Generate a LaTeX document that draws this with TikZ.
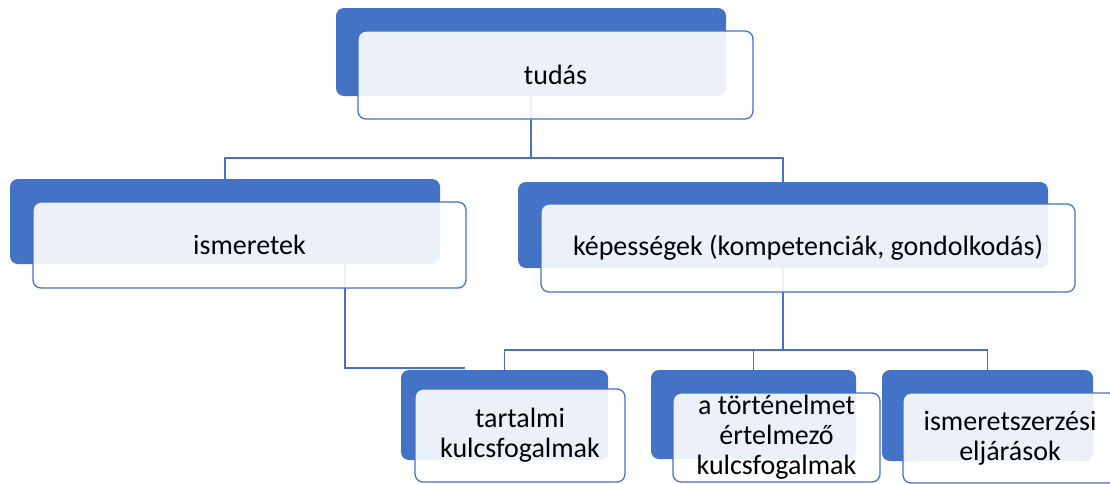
\documentclass[tikz,border=0pt]{standalone}
\usepackage{fontspec}
\setmainfont{Carlito}
\definecolor{accblue}{RGB}{68,114,196}
\tikzset{
  backbox/.style={draw=none, fill=accblue, rounded corners=8pt, inner sep=0pt, outer sep=0pt},
  frontbox/.style={draw=accblue, line width=1.3pt, fill=white, fill opacity=0.9, text opacity=1,
    rounded corners=8pt, inner sep=0pt, outer sep=0pt, align=center,
    font=\fontsize{28}{30}\selectfont, text=black},
  conn/.style={draw=accblue, line width=1.6pt}
}
\begin{document}
\begin{tikzpicture}[x=1pt,y=-1pt]
\useasboundingbox (0,0) rectangle (1110,483);
% back boxes as named nodes (positions only)
\path
  coordinate (tudasC) at (531,52)
  coordinate (ismC) at (225,221.5)
  coordinate (kepC) at (783,225)
  coordinate (tartC) at (504.5,415)
  coordinate (tortC) at (753.5,414.5)
  coordinate (ismszC) at (987.5,415.5);
\coordinate (ismOut) at (345,264);
\coordinate (tartIn) at (465,368);
% connectors
\draw[conn] (tudasC) -- (tudasC |- 0,158) -| (ismC);
\draw[conn] (tudasC |- 0,158) -| (kepC);
\draw[conn] (kepC) -- (kepC |- 0,350) -| (tartC);
\draw[conn] (kepC |- 0,350) -| (tortC);
\draw[conn] (kepC |- 0,350) -| (ismszC);
\draw[conn] (ismOut) |- (tartIn);
% back boxes
\node[backbox, minimum width=390pt, minimum height=88pt] (tudasB) at (tudasC) {};
\node[backbox, minimum width=430pt, minimum height=85pt] (ismB) at (ismC) {};
\node[backbox, minimum width=530pt, minimum height=86pt] (kepB) at (kepC) {};
\node[backbox, minimum width=207pt, minimum height=90pt] (tartB) at (tartC) {};
\node[backbox, minimum width=205pt, minimum height=89pt] (tortB) at (tortC) {};
\node[backbox, minimum width=211pt, minimum height=91pt] (ismszB) at (ismszC) {};
% front boxes
\node[frontbox, minimum width=395pt, minimum height=88pt] (tudasF) at (555.5,75) {tudás};
\node[frontbox, minimum width=433pt, minimum height=86pt] (ismF) at (249.5,245) {ismeretek};
\node[frontbox, minimum width=534pt, minimum height=88pt] (kepF) at (808,248) {képességek (kompetenciák, gondolkodás)};
\node[frontbox, minimum width=210pt, minimum height=93pt] (tartF) at (520,435.5) {tartalmi\\kulcsfogalmak};
\node[frontbox, minimum width=207pt, minimum height=89pt] (tortF) at (776.5,437.5) {a történelmet\\értelmező\\kulcsfogalmak};
\node[frontbox, minimum width=214pt, minimum height=90pt] (ismszF) at (1010,438) {ismeretszerzési\\eljárások};
\end{tikzpicture}
\end{document}
